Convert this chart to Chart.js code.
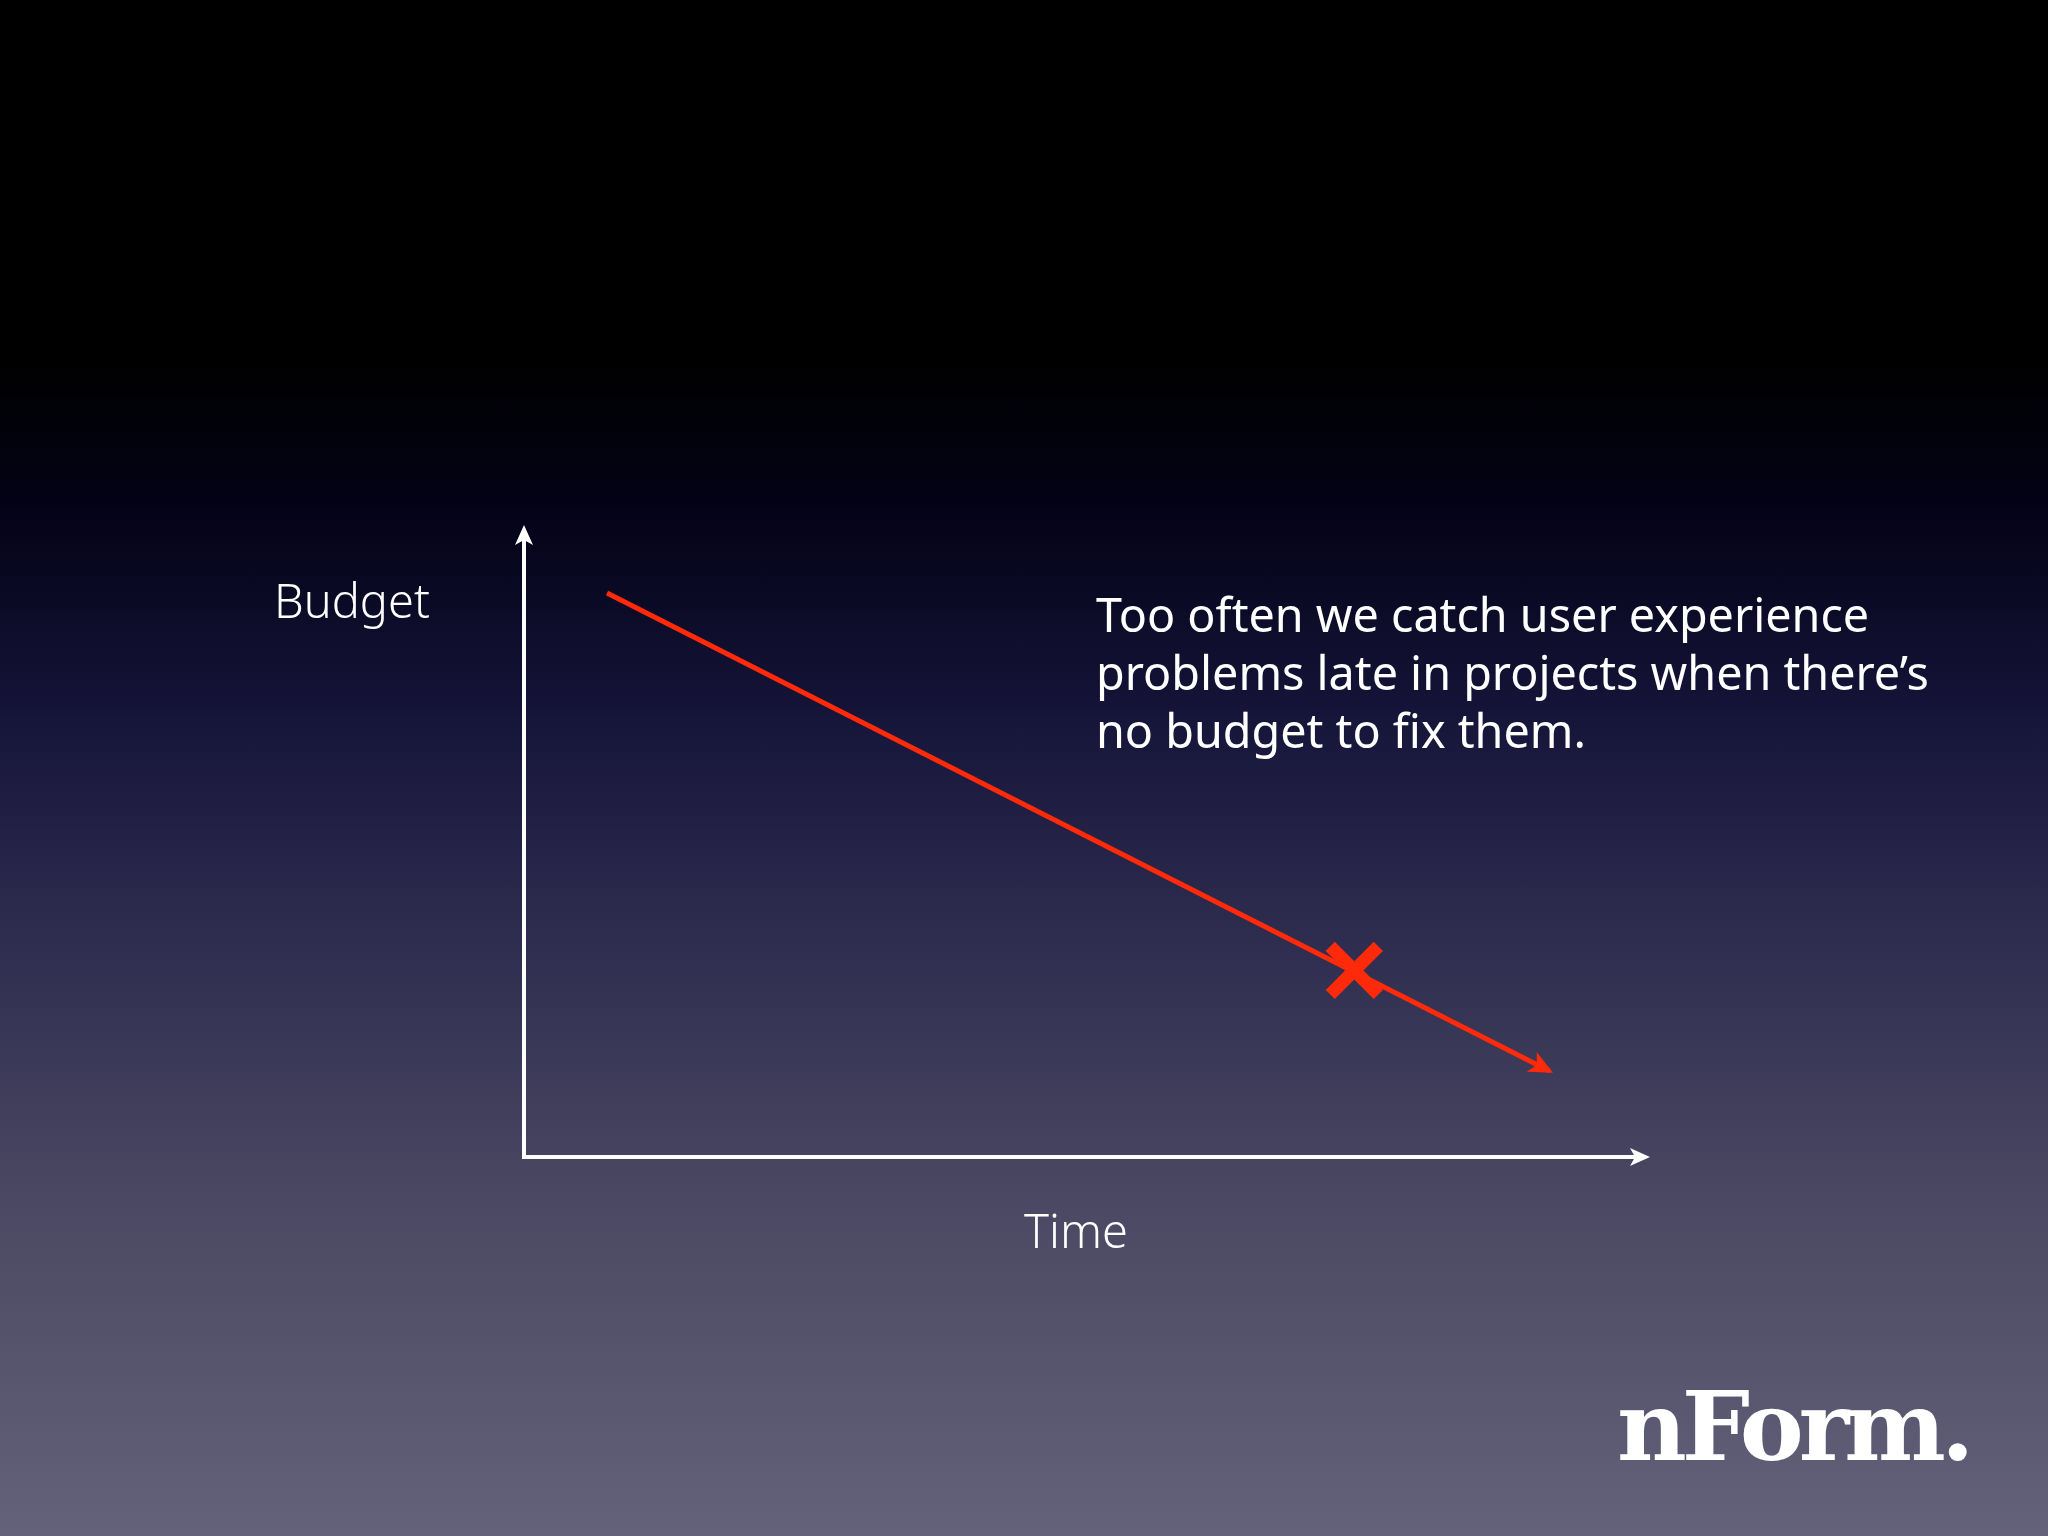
<!DOCTYPE html>
<html><head><meta charset="utf-8">
<script src="https://cdn.jsdelivr.net/npm/chart.js@4"></script>
<style>
html,body{margin:0;padding:0;width:2048px;height:1536px;overflow:hidden;
background:linear-gradient(to bottom,#000 0px,#000 360px,#040318 520px,#16153a 720px,#302e50 950px,#4a4862 1200px,#64627a 1536px);}
#wrap{position:absolute;left:0;top:0;width:2048px;height:1536px}
.t{position:absolute;color:#fff;font-family:"Noto Sans",sans-serif;}
</style></head><body>
<div id="wrap"><canvas id="c" width="2048" height="1536"></canvas></div>
<div class="t" style="left:274px;top:568px;font-size:47px;font-weight:300">Budget</div>
<div class="t" style="left:1024px;top:1198px;font-size:47px;font-weight:300">Time</div>
<div class="t" style="left:1096px;top:585px;font-size:46.7px;line-height:58px;">Too often we catch user experience<br>problems late in projects when there’s<br>no budget to fix them.</div>
<div class="t" style="left:1617px;top:1370px;font-size:96px;font-weight:900;font-family:'DejaVu Serif',serif;letter-spacing:-5px">nForm.</div>
<script>
const lineX=[7.4,91.4];
const lineY=[89.8,13.7];
const markX=[74.0];
const markY=[29.7];
const axesPlugin={id:'axes',afterDatasetsDraw(ch){
 const c=ch.ctx,a=ch.chartArea,x=ch.scales.x,y=ch.scales.y;
 c.save();c.strokeStyle='#fff';c.fillStyle='#fff';c.lineWidth=4;
 c.beginPath();c.moveTo(a.left,a.top+8);c.lineTo(a.left,a.bottom);c.lineTo(a.right-8,a.bottom);c.stroke();
 c.beginPath();c.moveTo(a.left,a.top-4);c.lineTo(a.left-9,a.top+16);c.lineTo(a.left,a.top+11);c.lineTo(a.left+9,a.top+16);c.closePath();c.fill();
 c.beginPath();c.moveTo(a.right+4,a.bottom);c.lineTo(a.right-16,a.bottom-9);c.lineTo(a.right-11,a.bottom);c.lineTo(a.right-16,a.bottom+9);c.closePath();c.fill();
 const x0=x.getPixelForValue(lineX[0]),y0=y.getPixelForValue(lineY[0]);
 const x1=x.getPixelForValue(lineX[1]),y1=y.getPixelForValue(lineY[1]);
 const ang=Math.atan2(y1-y0,x1-x0);
 c.fillStyle='#ff2a0a';c.translate(x1,y1);c.rotate(ang);
 c.beginPath();c.moveTo(4,0);c.lineTo(-20,-11);c.lineTo(-14,0);c.lineTo(-20,11);c.closePath();c.fill();
 c.restore();
}};
new Chart(document.getElementById('c'),{
 type:'scatter',
 data:{datasets:[
  {data:lineX.map((v,i)=>({x:v,y:lineY[i]})),showLine:true,borderColor:'#ff2a0a',borderWidth:5,pointRadius:0},
  {data:markX.map((v,i)=>({x:v,y:markY[i]})),pointStyle:'crossRot',pointRadius:34,borderColor:'#ff2a0a',borderWidth:13,backgroundColor:'#ff2a0a'}
 ]},
 options:{responsive:false,animation:false,
  layout:{padding:{left:524,right:402,top:529,bottom:379}},
  scales:{x:{display:false,min:0,max:100},y:{display:false,min:0,max:100}},
  plugins:{legend:{display:false},tooltip:{enabled:false}}},
 plugins:[axesPlugin]
});
</script></body></html>
